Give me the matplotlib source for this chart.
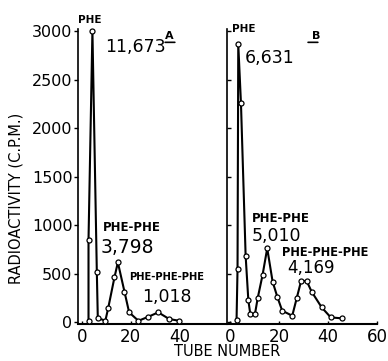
import matplotlib
matplotlib.use("Agg")
import matplotlib.pyplot as plt

# panel A readings (tube number, c.p.m.); first peak runs off scale at 3000
tube_a = [2.8, 2.8, 4.4, 6.2, 6.6, 9.7, 10.9, 13.4, 14.8, 17.5, 19.4, 23.2, 27.3, 31.3, 35.8, 39.9]
cpm_a = [15, 845, 3000, 515, 40, 15, 150, 460, 615, 313, 100, 13, 55, 100, 31, 13]

# panel B readings
tube_b = [2.7, 3.1, 3.4, 4.5, 6.4, 7.5, 8.3, 10.2, 11.3, 13.3, 15.2, 17.4, 19.3, 21.3,
          25.4, 27.2, 29.0, 31.3, 33.3, 37.4, 41.1, 45.8]
cpm_b = [20, 546, 2863, 2254, 684, 227, 82, 82, 244, 485, 760, 416, 261, 117,
         65, 244, 423, 423, 313, 151, 48, 38]

# peak annotations: (label, total counts)
peaks_a = [("PHE", "11,673"), ("PHE-PHE", "3,798"), ("PHE-PHE-PHE", "1,018")]
peaks_b = [("PHE", "6,631"), ("PHE-PHE", "5,010"), ("PHE-PHE-PHE", "4,169")]

yticks = [0, 500, 1000, 1500, 2000, 2500, 3000]

fig = plt.figure(figsize=(3.88, 3.61), dpi=100)
ax_a = fig.add_axes([0.201, 0.1025, 0.384, 0.817])
ax_b = fig.add_axes([0.585, 0.1025, 0.387, 0.817])

line_kw = dict(color="black", lw=1.5, marker="o", ms=3.6, mfc="white",
               mec="black", mew=0.9, clip_on=False, zorder=3)
ax_a.plot(tube_a, cpm_a, **line_kw)
ax_b.plot(tube_b, cpm_b, **line_kw)

for ax in (ax_a, ax_b):
    ax.set_ylim(-20, 3020)
    ax.set_yticks(yticks)
    ax.spines["top"].set_visible(False)
    ax.spines["right"].set_visible(False)
    ax.spines["left"].set_linewidth(1.2)
    ax.spines["bottom"].set_linewidth(1.5)
    ax.tick_params(axis="x", direction="in", length=2, width=1, pad=3, labelsize=12)

ax_a.set_xlim(-1.5, 59.4)
ax_a.set_xticks([0, 20, 40])
ax_a.tick_params(axis="y", direction="out", length=3, width=1, pad=1, labelsize=11.5)

ax_b.set_xlim(-1.2, 60)
ax_b.set_xticks([0, 20, 40, 60])
ax_b.tick_params(axis="y", direction="in", length=3, width=1, labelleft=False)

def small(size):
    return dict(fontsize=size, fontweight="bold", ha="left", va="center")

def big(size):
    return dict(fontsize=size, ha="left", va="center")

underline = dict(arrowstyle="-", lw=1.2, shrinkA=0, shrinkB=0)

# panel A labels
ax_a.text(-1.4, 3110, peaks_a[0][0], clip_on=False, **small(7.5))
ax_a.text(9.6, 2835, peaks_a[0][1], **big(12.5))
ax_a.text(8.5, 975, peaks_a[1][0], **small(8.5))
ax_a.text(7.6, 765, peaks_a[1][1], **big(13.5))
ax_a.text(19.4, 465, peaks_a[2][0], **small(7.2))
ax_a.text(24.7, 258, peaks_a[2][1], **big(12.5))
ax_a.text(36, 2950, "A", fontsize=8, fontweight="bold", ha="center", va="center")
ax_a.annotate("", xy=(0.585, 0.955), xytext=(0.65, 0.955), xycoords="axes fraction",
              arrowprops=underline)

# panel B labels
ax_b.text(0.8, 3020, peaks_b[0][0], **small(7.5))
ax_b.text(6.1, 2722, peaks_b[0][1], **big(12.5))
ax_b.text(9.0, 1072, peaks_b[1][0], **small(8.5))
ax_b.text(9.0, 890, peaks_b[1][1], **big(12.5))
ax_b.text(21.2, 722, peaks_b[2][0], **small(8.3))
ax_b.text(23.3, 560, peaks_b[2][1], **big(12))
ax_b.text(35.1, 2950, "B", fontsize=8, fontweight="bold", ha="center", va="center")
ax_b.annotate("", xy=(0.54, 0.955), xytext=(0.605, 0.955), xycoords="axes fraction",
              arrowprops=underline)

fig.text(0.04, 0.45, "RADIOACTIVITY (C.P.M.)", rotation=90, fontsize=10.5,
         ha="center", va="center")
fig.text(0.585, 0.025, "TUBE NUMBER", fontsize=10.5, ha="center", va="center")

fig.savefig("out.png", dpi=100, facecolor="white")
